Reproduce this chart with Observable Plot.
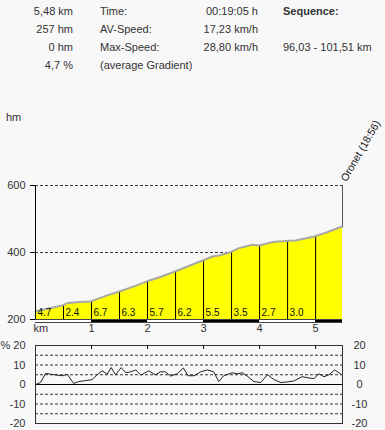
<!DOCTYPE html>
<html><head><meta charset="utf-8">
<script src="https://cdn.jsdelivr.net/npm/d3@7"></script>
<script src="https://cdn.jsdelivr.net/npm/@observablehq/plot@0.6"></script>
<style>
body{margin:0;background:#f8f8f8;font-family:"Liberation Sans",Arial,sans-serif;font-size:11px;color:#333;width:385px;height:430px;overflow:hidden;position:relative}
.t{position:absolute;white-space:nowrap;line-height:13px}
#topchart{position:absolute;left:0;top:95px}
#botchart{position:absolute;left:0;top:340px}
</style></head><body>
<div id="hdr"></div>
<div id="topchart"></div>
<div id="botchart"></div>
<script>
// ---- header data
const statsLeft = ["5,48 km", "257 hm", "0 hm", "4,7 %"];
const statsLabels = ["Time:", "AV-Speed:", "Max-Speed:", "(average Gradient)"];
const statsValues = ["00:19:05 h", "17,23 km/h", "28,80 km/h", ""];
const sequenceTitle = "Sequence:";
const sequenceRange = "96,03 - 101,51 km";
const unitLabel = "hm";
const placeLabel = "Oronet (18:56)";

// ---- elevation profile (km, hm)
const profileKm   = [0, 0.21, 0.48, 0.57, 0.80, 0.98, 1.28, 1.52, 1.76, 1.99, 2.23, 2.50, 2.68, 2.98, 3.16, 3.27, 3.48, 3.63, 3.87, 3.99, 4.23, 4.46, 4.64, 4.94, 5.18, 5.45, 5.48];
const profileElev = [224, 232, 242, 249, 252, 254, 272, 285, 299, 314, 327, 344, 356, 376, 388, 391, 401, 413, 423, 421, 431, 434, 436, 446, 459, 476, 477];
const totalKm = 5.48;

// ---- gradient per 0.5 km segment
const segStart = [0, 0.5, 1, 1.5, 2, 2.5, 3, 3.5, 4, 4.5];
const segGrad  = ["4.7", "2.4", "6.7", "6.3", "5.7", "6.2", "5.5", "3.5", "2.7", "3.0"];
const segMarks = [0.5, 1, 1.5, 2, 2.5, 3, 3.5, 4, 4.5, 5];

// ---- km strip
const kmStart = [0, 1, 2, 3, 4, 5];
const kmEnd   = [1, 2, 3, 4, 5, 5.48];
const kmTicks = [1, 2, 3, 4, 5];
const elevTicks = [200, 400, 600];
const elevGrid = [400, 600];

// ---- gradient curve (km, %)
const gradKm  = [0, 0.09, 0.18, 0.33, 0.48, 0.57, 0.68, 0.77, 0.89, 1.01, 1.10, 1.19, 1.28, 1.35, 1.43, 1.53, 1.61, 1.70, 1.79, 1.88, 2.02, 2.14, 2.23, 2.32, 2.41, 2.53, 2.64, 2.72, 2.83, 2.95, 3.07, 3.18, 3.27, 3.36, 3.51, 3.60, 3.69, 3.78, 3.90, 4.02, 4.14, 4.26, 4.38, 4.49, 4.61, 4.76, 4.85, 4.97, 5.06, 5.15, 5.24, 5.34, 5.45];
const gradPct = [0, 1, 5.7, 5, 4.5, 5.2, 0.5, 1.5, 2, 2.5, 5, 7, 5.3, 8.7, 5, 8.7, 6, 6.5, 7.5, 4.8, 7, 5, 6.5, 6.5, 4.3, 5.5, 8.5, 4.5, 4.5, 6.5, 7.5, 6.5, 1.5, 4.5, 6, 5.5, 6, 4.3, 1.5, 1, 5, 2.5, 1, 1.3, 1.8, 4, 3.5, 3, 5.5, 4, 5, 7.5, 5.3];
const pctTicks = [-20, -10, 0, 10, 20];
const pctGrid = [-15, -10, -5, 5, 10, 15];

// ---- header
const hdr = document.getElementById("hdr");
function addText(txt, x, y, align, bold) {
  const d = document.createElement("div");
  d.className = "t";
  d.textContent = txt;
  d.style.top = (y - 6.5) + "px";
  if (align === "right") d.style.right = (385 - x) + "px"; else d.style.left = x + "px";
  if (bold) d.style.fontWeight = "bold";
  hdr.appendChild(d);
}
statsLeft.forEach((s, i) => addText(s, 73, 11 + 18 * i, "right"));
statsLabels.forEach((s, i) => addText(s, 100, 11 + 18 * i, "left"));
statsValues.forEach((s, i) => addText(s, 258, 11 + 18 * i, "right"));
addText(sequenceTitle, 283, 11, "left", true);
addText(sequenceRange, 283, 47, "left");
addText(unitLabel, 6, 117, "left");

// ---- top chart
const profile = profileKm.map((k, i) => ({km: k, elev: profileElev[i]}));
const interp = k => {
  for (let i = 1; i < profile.length; i++) {
    if (k <= profile[i].km) {
      const a = profile[i - 1], b = profile[i];
      return a.elev + (b.elev - a.elev) * (k - a.km) / (b.km - a.km);
    }
  }
  return profile[profile.length - 1].elev;
};
const segs = segMarks.map(k => ({km: k, elev: interp(k)}));
const labels = segStart.map((k, i) => ({km: k, g: segGrad[i]}));
const strip = kmStart.map((a, i) => ({a, b: kmEnd[i], c: i % 2 ? "#000" : "#fff"}));
const endElev = profileElev[profileElev.length - 1];

const style = {background: "transparent", fontFamily: "'Liberation Sans', Arial, sans-serif", fontSize: "11px", color: "#333", overflow: "visible"};

const topPlot = Plot.plot({
  width: 385, height: 245,
  marginLeft: 35, marginRight: 43, marginTop: 90, marginBottom: 21,
  style,
  x: {domain: [0, totalKm], axis: null},
  y: {domain: [200, 600], axis: null},
  marks: [
    Plot.ruleY(elevGrid, {x1: 0, x2: totalKm, stroke: "#333", strokeDasharray: "3,2"}),
    Plot.areaY(profile, {x: "km", y1: 200, y2: "elev", fill: "#ffff00"}),
    Plot.ruleX(segs, {x: "km", y1: 200, y2: "elev", stroke: "#000"}),
    Plot.lineY(profile, {x: "km", y: "elev", stroke: "#a8a8a8", strokeWidth: 2}),
    Plot.text(labels, {x: "km", y: 200, text: "g", textAnchor: "start", dx: 2, dy: -7, fontSize: 10, fill: "#111"}),
    Plot.ruleX([totalKm], {y1: endElev, y2: 600, stroke: "#555"}),
    Plot.text([placeLabel], {x: totalKm, y: 600, text: d => d, rotate: -60, textAnchor: "start", dx: 1, dy: -5, fill: "#111", fontSize: 10.5}),
    Plot.ruleY([200], {x1: 0, x2: totalKm, stroke: "#444", strokeWidth: 4, dy: 1.5}),
    Plot.ruleY(strip, {y: 200, x1: "a", x2: "b", stroke: "c", strokeWidth: 2, dy: 1.5}),
    Plot.ruleX([0], {y1: 200, y2: 600, stroke: "#000"}),
    Plot.axisY(elevTicks, {tickSize: 5, tickPadding: 5, label: null, stroke: "#000", fill: "#333"}),
    Plot.text(kmTicks, {x: d => d, frameAnchor: "bottom", dy: 12, fill: "#333"}),
    Plot.text(["km"], {x: 0, frameAnchor: "bottom", dy: 12, textAnchor: "start", dx: -2, fill: "#333"})
  ]
});
document.getElementById("topchart").appendChild(topPlot);

// ---- bottom chart
const grad = gradKm.map((k, i) => ({km: k, pct: gradPct[i]}));
const botPlot = Plot.plot({
  width: 385, height: 90,
  marginLeft: 35, marginRight: 43, marginTop: 5, marginBottom: 7,
  style,
  x: {domain: [0, totalKm], axis: null},
  y: {domain: [-20, 20], axis: null},
  marks: [
    Plot.ruleY(pctGrid, {stroke: "#333", strokeDasharray: "3,2"}),
    Plot.ruleY([0], {stroke: "#000"}),
    Plot.lineY(grad, {x: "km", y: "pct", stroke: "#222", strokeWidth: 1}),
    Plot.ruleX(kmTicks, {y1: 20, y2: 18, stroke: "#000"}),
    Plot.frame({stroke: "#333"}),
    Plot.text(pctTicks, {y: d => d, frameAnchor: "left", text: d => d === 20 ? "% 20" : String(d), textAnchor: "end", dx: -10, fill: "#333"}),
    Plot.text(pctTicks, {y: d => d, frameAnchor: "right", text: d => String(d), textAnchor: "middle", dx: 17, fill: "#333"})
  ]
});
document.getElementById("botchart").appendChild(botPlot);
</script>
</body></html>
